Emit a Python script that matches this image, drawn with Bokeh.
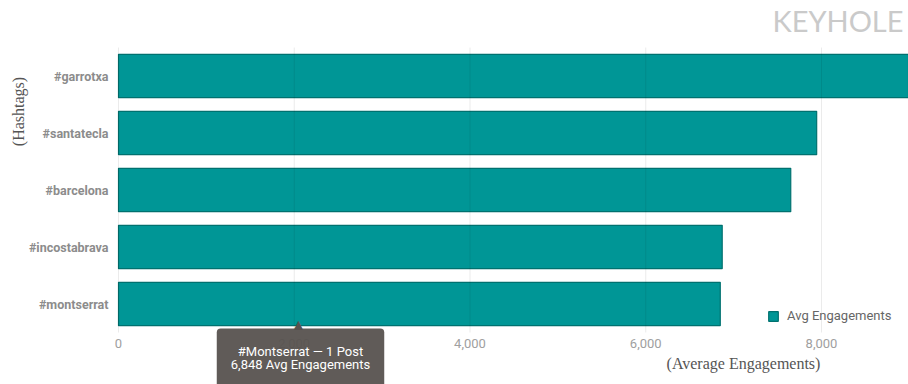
import math
from bokeh.plotting import figure
from bokeh.models import Range1d, Label, Legend, LegendItem, ColumnDataSource
from bokeh.core.properties import value
from bokeh.embed import file_html
from bokeh.resources import INLINE

hashtags = ["#montserrat", "#incostabrava", "#barcelona", "#santatecla", "#garrotxa"]
avg_engagements = [6848, 6870, 7650, 7945, 9300]
x_ticks = [0, 2000, 4000, 6000, 8000]
x_tick_labels = [f"{v:,}" for v in x_ticks]

n = len(hashtags)
pos = list(range(n))
src = ColumnDataSource(dict(y=pos, val=avg_engagements, tag=hashtags))

p = figure(width=908, height=384, output_backend="svg", toolbar_location=None,
           x_range=Range1d(-1343, 8990), y_range=Range1d(-1.412, 5.325),
           x_axis_location=None, y_axis_location=None,
           min_border_left=0, min_border_right=0, min_border_top=0, min_border_bottom=0)
p.xgrid.visible = False
p.ygrid.visible = False
p.outline_line_color = None
p.background_fill_color = "white"

bars = p.hbar(y="y", right="val", left=0, height=0.76, source=src,
              fill_color="#009696", line_color="#00716f", line_width=1.2)

# vertical grid lines over the bar area
p.segment(x0=x_ticks, x1=x_ticks, y0=[-0.5] * len(x_ticks), y1=[n - 0.5] * len(x_ticks),
          line_color="#000000", line_alpha=0.08, line_width=1)

# x tick labels
p.text(x=x_ticks, y=[-0.69] * len(x_ticks), text=x_tick_labels, text_align="center",
       text_baseline="middle", text_font=value("Roboto"), text_font_size="13px",
       text_color="#a0a0a0")

# y tick labels (category names)
p.text(x=[0] * n, y=pos, text=hashtags, x_offset=-10, text_align="right",
       text_baseline="middle", text_font=value("Roboto"), text_font_size="12.5px",
       text_font_style="bold", text_color="#8c8c8c")

legend = Legend(items=[LegendItem(label="Avg Engagements", renderers=[bars])],
                location=(767, 61), padding=0, margin=0, glyph_width=12, glyph_height=12,
                label_standoff=8, label_text_font="Roboto", label_text_font_size="13px",
                label_text_color="#666666", background_fill_alpha=0, border_line_color=None)
p.add_layout(legend, "center")

p.add_layout(Label(x=18, y=273, x_units="screen", y_units="screen", text="(Hashtags)",
                   angle=math.pi / 2, text_align="center", text_baseline="middle",
                   text_font="Liberation Serif", text_font_size="16px",
                   text_color="#555555"))
p.add_layout(Label(x=743, y=21, x_units="screen", y_units="screen",
                   text="(Average Engagements)", text_align="center", text_baseline="middle",
                   text_font="Liberation Serif", text_font_size="16px",
                   text_color="#555555"))
p.add_layout(Label(x=903, y=364, x_units="screen", y_units="screen", text="KEYHOLE",
                   text_align="right", text_baseline="middle", text_font="Lato",
                   text_font_size="29px", text_color="#cacaca"))

# hover tooltip as shown in the picture
p.add_layout(Label(x=298, y=52, x_units="screen", y_units="screen", text="▲",
                   text_align="center", text_baseline="bottom", text_font_size="16px",
                   text_color="#57524f", level="overlay"))
p.add_layout(Label(x=300, y=56, x_units="screen", y_units="screen",
                   text="#Montserrat — 1 Post\n6,848 Avg Engagements",
                   text_align="center", text_baseline="top", text_font="Roboto",
                   text_font_size="13px", text_color="white", text_line_height=0.9,
                   background_fill_color="#57524f", background_fill_alpha=0.95,
                   padding=dict(left=14, right=14, top=15, bottom=20), border_radius=4,
                   level="overlay"))

open("out.html", "w").write(file_html(p, INLINE))
